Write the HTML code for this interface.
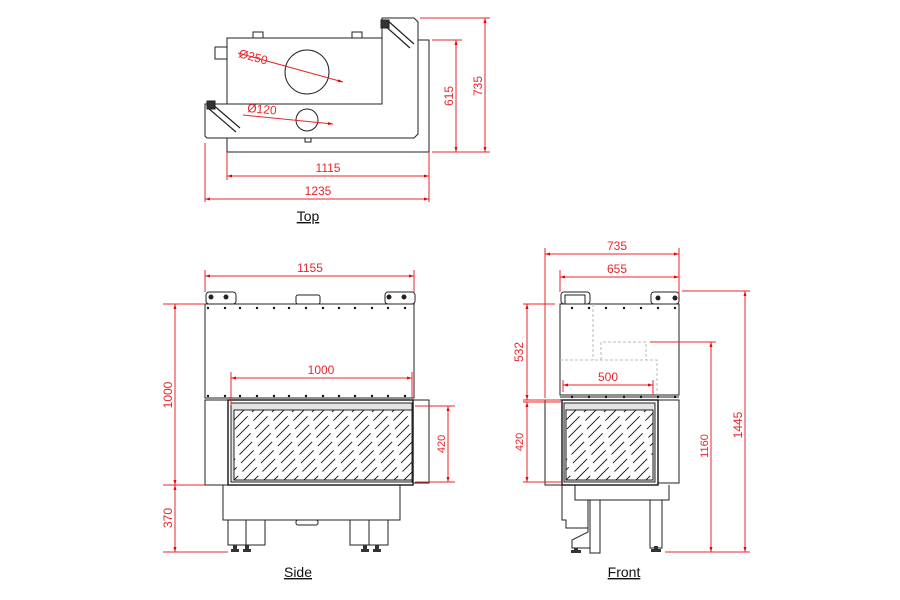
<!DOCTYPE html>
<html><head><meta charset="utf-8"><style>
html,body{margin:0;padding:0;background:#fff;}
svg{display:block;}
text{font-family:"Liberation Sans",sans-serif;}
</style></head><body>
<svg width="900" height="600" viewBox="0 0 900 600" xmlns="http://www.w3.org/2000/svg">
<defs>
<clipPath id="cs"><rect x="234" y="410" width="178" height="70"/></clipPath>
<clipPath id="cf"><rect x="566" y="410" width="87" height="70"/></clipPath>
<marker id="a" viewBox="0 0 10 10" refX="10" refY="5" markerWidth="7" markerHeight="5" orient="auto-start-reverse"><path d="M0,2 L10,5 L0,8 z" fill="#e00"/></marker>
</defs>
<g fill="none" stroke="#222" stroke-width="1">
<!-- TOP VIEW -->
<rect x="227" y="40" width="202" height="112"/>
<path d="M227,38 H382 V18 H414 L418,22 V134 L414,138 H207 L205,136 V104 H227 Z" fill="#fff"/>
<path d="M227,104 H382 V38"/>
<rect x="215" y="47" width="12" height="12"/>
<rect x="253" y="32" width="10" height="6"/>
<rect x="352" y="32" width="10" height="6"/>
<circle cx="307" cy="72" r="22"/>
<circle cx="307" cy="120" r="11"/>
<rect x="305" y="138" width="6" height="4"/>
<path d="M383,24 L410,48 M387,20 L414,44" stroke-width="1.2"/>
<rect x="381" y="20" width="8" height="8" fill="#333"/>
<path d="M208,108 L236,132 M212,104 L240,128" stroke-width="1.2"/>
<rect x="207" y="101" width="8" height="8" fill="#333"/>

<!-- SIDE VIEW -->
<rect x="206" y="292" width="30" height="12" rx="3"/>
<circle cx="211" cy="297" r="2" fill="#222"/><circle cx="226" cy="297" r="2" fill="#222"/>
<rect x="385" y="292" width="30" height="12" rx="3"/>
<circle cx="389" cy="297" r="2" fill="#222"/><circle cx="404" cy="297" r="2" fill="#222"/>
<rect x="296" y="295" width="24" height="9" rx="2"/>
<rect x="205" y="304" width="209" height="94"/>
<line x1="205" y1="398" x2="414" y2="398"/>
<rect x="205" y="400" width="23" height="85"/>
<rect x="228" y="400" width="185" height="85" stroke-width="1.5"/>
<rect x="231" y="403" width="181" height="79" fill="#e4e4e4"/>
<rect x="234" y="410" width="178" height="70" fill="#fff" stroke="#222"/>
<g clip-path="url(#cs)" stroke="#111" stroke-width="0.9" stroke-dasharray="18,6">
<path d="M164,480l70,-70M184,480l70,-70M204,480l70,-70M224,480l70,-70M244,480l70,-70M264,480l70,-70M284,480l70,-70M304,480l70,-70M324,480l70,-70M344,480l70,-70M364,480l70,-70M384,480l70,-70M404,480l70,-70"/>
<path stroke-dashoffset="12" d="M174,480l70,-70M194,480l70,-70M214,480l70,-70M234,480l70,-70M254,480l70,-70M274,480l70,-70M294,480l70,-70M314,480l70,-70M334,480l70,-70M354,480l70,-70M374,480l70,-70M394,480l70,-70"/>
</g>
<rect x="413" y="400" width="16" height="83"/>
<rect x="223" y="485" width="177" height="35"/>
<rect x="296" y="520" width="22" height="5" rx="2"/>
<rect x="228" y="520" width="37" height="25"/><line x1="246" y1="520" x2="246" y2="545"/>
<rect x="350" y="520" width="38" height="25"/><line x1="369" y1="520" x2="369" y2="545"/>
<g fill="#333" stroke="none">
<rect x="233" y="545" width="4" height="5"/><rect x="231" y="549" width="8" height="3"/>
<rect x="245" y="545" width="4" height="5"/><rect x="243" y="549" width="8" height="3"/>
<rect x="363" y="545" width="4" height="5"/><rect x="361" y="549" width="8" height="3"/>
<rect x="375" y="545" width="4" height="5"/><rect x="373" y="549" width="8" height="3"/>
</g>

<!-- FRONT VIEW -->
<rect x="561" y="292" width="29" height="12" rx="3"/>
<rect x="565" y="295" width="20" height="9"/>
<rect x="651" y="292" width="28" height="12" rx="3"/>
<circle cx="658" cy="298" r="2" fill="#222"/><circle cx="675" cy="298" r="2" fill="#222"/>
<rect x="560" y="304" width="119" height="91"/>
<line x1="560" y1="397" x2="679" y2="397"/>
<g stroke="#bbb" stroke-dasharray="3,2">
<path d="M593,304 V360 M601,360 V342 H646 V360 M560,360 H657 V395"/>
</g>
<rect x="545" y="400" width="17" height="85"/>
<rect x="562" y="400" width="96" height="85" stroke-width="1.5"/>
<rect x="564" y="403" width="91" height="79" fill="#e4e4e4"/>
<rect x="566" y="410" width="87" height="70" fill="#fff" stroke="#222"/>
<g clip-path="url(#cf)" stroke="#111" stroke-width="0.9" stroke-dasharray="18,6">
<path d="M496,480l70,-70M516,480l70,-70M536,480l70,-70M556,480l70,-70M576,480l70,-70M596,480l70,-70M616,480l70,-70M636,480l70,-70"/>
<path stroke-dashoffset="12" d="M506,480l70,-70M526,480l70,-70M546,480l70,-70M566,480l70,-70M586,480l70,-70M606,480l70,-70M626,480l70,-70M646,480l70,-70"/>
</g>
<rect x="658" y="400" width="21" height="83"/>
<path d="M575,485 V500 H669 V485"/>
<path d="M562,485 V520 H566 V528 H588 V500 M588,500 V532 L572,540 V548 H590 V500 M590,500 V553 H600 V500"/>
<rect x="650" y="500" width="12" height="48"/>
<g fill="#333" stroke="none">
<rect x="574" y="548" width="4" height="3"/><rect x="571" y="550" width="10" height="3"/>
<rect x="654" y="546" width="4" height="4"/><rect x="651" y="549" width="10" height="3"/>
</g>
</g>
<!-- dots -->
<g fill="#111">
<circle cx="208" cy="308" r="1.2"/><circle cx="225" cy="308" r="1.2"/><circle cx="240" cy="308" r="1.2"/><circle cx="257" cy="308" r="1.2"/><circle cx="274" cy="308" r="1.2"/><circle cx="289" cy="308" r="1.2"/><circle cx="306" cy="308" r="1.2"/><circle cx="323" cy="308" r="1.2"/><circle cx="339" cy="308" r="1.2"/><circle cx="355" cy="308" r="1.2"/><circle cx="372" cy="308" r="1.2"/><circle cx="388" cy="308" r="1.2"/><circle cx="405" cy="308" r="1.2"/>
<circle cx="208" cy="396" r="1.2"/><circle cx="225" cy="396" r="1.2"/><circle cx="240" cy="396" r="1.2"/><circle cx="257" cy="396" r="1.2"/><circle cx="274" cy="396" r="1.2"/><circle cx="289" cy="396" r="1.2"/><circle cx="306" cy="396" r="1.2"/><circle cx="323" cy="396" r="1.2"/><circle cx="339" cy="396" r="1.2"/><circle cx="355" cy="396" r="1.2"/><circle cx="372" cy="396" r="1.2"/><circle cx="388" cy="396" r="1.2"/><circle cx="405" cy="396" r="1.2"/>
<circle cx="572" cy="308" r="1.2"/><circle cx="589" cy="308" r="1.2"/><circle cx="606" cy="308" r="1.2"/><circle cx="624" cy="308" r="1.2"/><circle cx="641" cy="308" r="1.2"/><circle cx="658" cy="308" r="1.2"/><circle cx="675" cy="308" r="1.2"/>
<circle cx="572" cy="397" r="1.2"/><circle cx="589" cy="397" r="1.2"/><circle cx="606" cy="397" r="1.2"/><circle cx="624" cy="397" r="1.2"/><circle cx="641" cy="397" r="1.2"/><circle cx="658" cy="397" r="1.2"/><circle cx="675" cy="397" r="1.2"/>
</g>

<!-- RED DIMENSIONS -->
<g stroke="#e8262b" stroke-width="1" fill="none">
<line x1="238" y1="53" x2="343" y2="82" marker-end="url(#a)"/>
<line x1="243" y1="115" x2="333" y2="124" marker-end="url(#a)"/>
<line x1="420" y1="18" x2="490" y2="18"/><line x1="432" y1="40" x2="462" y2="40"/><line x1="432" y1="152" x2="490" y2="152"/>
<line x1="456" y1="40" x2="456" y2="152" marker-start="url(#a)" marker-end="url(#a)"/>
<line x1="485" y1="18" x2="485" y2="152" marker-start="url(#a)" marker-end="url(#a)"/>
<line x1="205" y1="143" x2="205" y2="202"/><line x1="227" y1="152" x2="227" y2="180"/><line x1="429" y1="152" x2="429" y2="202"/>
<line x1="227" y1="176" x2="429" y2="176" marker-start="url(#a)" marker-end="url(#a)"/>
<line x1="205" y1="199" x2="429" y2="199" marker-start="url(#a)" marker-end="url(#a)"/>

<line x1="205" y1="270" x2="205" y2="292"/><line x1="414" y1="270" x2="414" y2="292"/>
<line x1="205" y1="276" x2="414" y2="276" marker-start="url(#a)" marker-end="url(#a)"/>
<line x1="163" y1="304" x2="205" y2="304"/><line x1="163" y1="485" x2="205" y2="485"/><line x1="163" y1="552" x2="228" y2="552"/>
<line x1="175" y1="304" x2="175" y2="485" marker-start="url(#a)" marker-end="url(#a)"/>
<line x1="175" y1="485" x2="175" y2="552" marker-start="url(#a)" marker-end="url(#a)"/>
<line x1="231" y1="372" x2="231" y2="405"/><line x1="412" y1="372" x2="412" y2="398"/>
<line x1="231" y1="378" x2="412" y2="378" marker-start="url(#a)" marker-end="url(#a)"/>
<line x1="415" y1="406" x2="455" y2="406"/><line x1="415" y1="482" x2="455" y2="482"/>
<line x1="448" y1="406" x2="448" y2="482" marker-start="url(#a)" marker-end="url(#a)"/>

<line x1="545" y1="248" x2="545" y2="398"/><line x1="560" y1="270" x2="560" y2="292"/><line x1="679" y1="248" x2="679" y2="295"/>
<line x1="545" y1="254" x2="679" y2="254" marker-start="url(#a)" marker-end="url(#a)"/>
<line x1="560" y1="277" x2="679" y2="277" marker-start="url(#a)" marker-end="url(#a)"/>
<line x1="523" y1="304" x2="555" y2="304"/><line x1="523" y1="400" x2="560" y2="400"/>
<line x1="527" y1="304" x2="527" y2="400" marker-start="url(#a)" marker-end="url(#a)"/>
<line x1="523" y1="402" x2="562" y2="402"/><line x1="523" y1="482" x2="562" y2="482"/>
<line x1="527" y1="402" x2="527" y2="482" marker-start="url(#a)" marker-end="url(#a)"/>
<line x1="563" y1="380" x2="563" y2="392"/><line x1="653" y1="380" x2="653" y2="395"/>
<line x1="563" y1="385" x2="653" y2="385" marker-start="url(#a)" marker-end="url(#a)"/>
<line x1="650" y1="342" x2="716" y2="342"/><line x1="665" y1="552" x2="750" y2="552"/><line x1="682" y1="291" x2="750" y2="291"/>
<line x1="711" y1="342" x2="711" y2="552" marker-start="url(#a)" marker-end="url(#a)"/>
<line x1="745" y1="291" x2="745" y2="552" marker-start="url(#a)" marker-end="url(#a)"/>
</g>
<g fill="#e8262b" font-size="12">
<text x="238" y="57" transform="rotate(15 238 57)">Ø250</text>
<text x="247" y="112" transform="rotate(5 247 112)">Ø120</text>
<text x="328" y="172" text-anchor="middle">1115</text>
<text x="318" y="195" text-anchor="middle">1235</text>
<text transform="translate(453 96) rotate(-90)" text-anchor="middle">615</text>
<text transform="translate(482 86) rotate(-90)" text-anchor="middle">735</text>
<text x="310" y="272" text-anchor="middle">1155</text>
<text x="321" y="374" text-anchor="middle">1000</text>
<text transform="translate(172 395) rotate(-90)" text-anchor="middle">1000</text>
<text transform="translate(172 518) rotate(-90)" text-anchor="middle">370</text>
<text transform="translate(445 444) rotate(-90)" text-anchor="middle" font-size="11">420</text>
<text x="617" y="250" text-anchor="middle">735</text>
<text x="617" y="273" text-anchor="middle">655</text>
<text x="608" y="381" text-anchor="middle">500</text>
<text transform="translate(523 352) rotate(-90)" text-anchor="middle">532</text>
<text transform="translate(523 442) rotate(-90)" text-anchor="middle" font-size="11">420</text>
<text transform="translate(708 446) rotate(-90)" text-anchor="middle" font-size="11">1160</text>
<text transform="translate(742 425) rotate(-90)" text-anchor="middle">1445</text>
</g>
<g fill="#111" font-size="14">
<text x="308" y="221" text-anchor="middle" text-decoration="underline">Top</text>
<text x="298" y="577" text-anchor="middle" text-decoration="underline">Side</text>
<text x="624" y="577" text-anchor="middle" text-decoration="underline">Front</text>
</g>
</svg>
</body></html>
